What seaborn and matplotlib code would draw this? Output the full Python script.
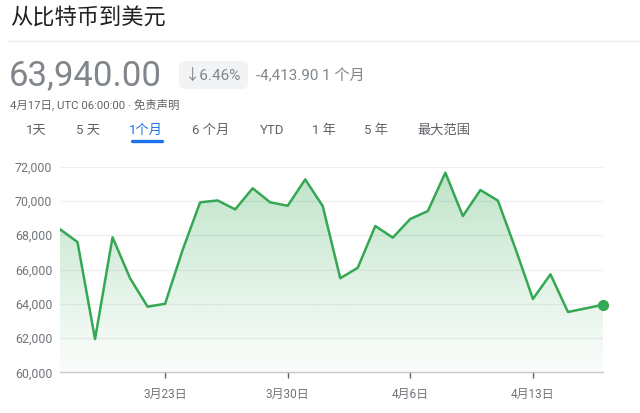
import numpy as np
import pandas as pd
import matplotlib
matplotlib.use("Agg")
import matplotlib.pyplot as plt
import matplotlib.dates as mdates
from matplotlib.patches import FancyBboxPatch
from matplotlib.ticker import FuncFormatter
import seaborn as sns

# ---- data ----
dates = pd.date_range("2024-03-17", "2024-04-17", freq="D")
prices = [68350, 67600, 61940, 67880, 65490, 63830, 64000, 67140, 69920, 70030,
          69510, 70740, 69920, 69720, 71260, 69700, 65490, 66100, 68540, 67860,
          68950, 69410, 71650, 69120, 70640, 70020, 67220, 64280, 65720, 63520,
          63730, 63940]
y_ticks = [60000, 62000, 64000, 66000, 68000, 70000, 72000]
x_tick_dates = pd.to_datetime(["2024-03-23", "2024-03-30", "2024-04-06", "2024-04-13"])
tabs = ["1天", "5 天", "1个月", "6 个月", "YTD", "1 年", "5 年", "最大范围"]
tab_x = [36, 88, 146, 211, 272, 324, 376, 444]

df = pd.DataFrame({"date": dates, "price": prices})

sns.set_theme(style="white")
plt.rcParams["font.family"] = ["Roboto", "Noto Sans CJK SC", "DejaVu Sans"]

W, H = 640, 413
fig = plt.figure(figsize=(W / 100, H / 100), dpi=100)
fig.patch.set_facecolor("white")

def fx(px):
    return px / W

def fy(py):
    return 1 - py / H

green = "#34a853"

# axes placement
ax = fig.add_axes([fx(60), fy(372.3), fx(603) - fx(60), fy(166.7) - fy(372.3)])
ax.set_facecolor("white")

# gradient fill under line
x_num = mdates.date2num(df["date"])
poly = ax.fill_between(x_num, prices, 60000, color="none", lw=0)
grad = np.linspace(0, 1, 256).reshape(-1, 1)
cmap = matplotlib.colors.LinearSegmentedColormap.from_list(
    "g", [(0.0, (52/255, 168/255, 83/255, 0.02)), (1.0, (52/255, 168/255, 83/255, 0.32))])
im = ax.imshow(grad, aspect="auto", cmap=cmap, origin="lower",
               extent=[x_num[0], x_num[-1], 60000, 72000], zorder=1)
path = poly.get_paths()[0]
im.set_clip_path(path, transform=ax.transData)

# grid lines
for v in y_ticks[1:]:
    ax.axhline(v, color="#eeeff0", lw=0.9, zorder=0.5)

sns.lineplot(data=df, x="date", y="price", ax=ax, color=green, lw=1.8, zorder=3)
ax.plot(df["date"].iloc[-1], prices[-1], "o", color=green, ms=7, zorder=4, clip_on=False)

ax.set_xlim(dates[0], dates[-1])
ax.set_ylim(60000, 72000)
ax.set_xlabel("")
ax.set_ylabel("")
for s in ["top", "right", "left"]:
    ax.spines[s].set_visible(False)
ax.spines["bottom"].set_color("#c4c7c9")
ax.spines["bottom"].set_linewidth(1.0)

ax.set_yticks(y_ticks)
ax.yaxis.set_major_formatter(FuncFormatter(lambda v, p: f"{int(v):,}"))
ax.tick_params(axis="y", length=0, pad=5.5, labelsize=8.9, labelcolor="#70757a")
ax.set_xticks(x_tick_dates)
ax.xaxis.set_major_formatter(FuncFormatter(
    lambda v, p: f"{mdates.num2date(v).month}月{mdates.num2date(v).day}日"))
ax.tick_params(axis="x", length=4, width=1, color="#5f6368", direction="out",
               pad=7, labelsize=8.6, labelcolor="#70757a", bottom=True)

# ---- header ----
fig.text(fx(10), fy(19), "从比特币到美元", fontsize=16, color="#202124", va="center", ha="left")
fig.add_artist(plt.Line2D([fx(8), fx(640)], [fy(41), fy(41)], color="#ebebeb", lw=1))

fig.text(fx(9), fy(76), "63,940.00", fontsize=25, color="#80868b", va="center", ha="left")

badge = FancyBboxPatch((fx(179), fy(89)), fx(248) - fx(179), fy(61) - fy(89),
                       boxstyle="round,pad=0,rounding_size=0.012",
                       transform=fig.transFigure, facecolor="#f1f3f4", edgecolor="none")
fig.add_artist(badge)
fig.text(fx(213.5), fy(75.5), "↓6.46%", fontsize=11, color="#80868b", va="center", ha="center")
fig.text(fx(256), fy(75.5), "-4,413.90 1 个月", fontsize=10.9, color="#80868b", va="center", ha="left")

fig.text(fx(10), fy(104), "4月17日, UTC 06:00:00 · 免责声明", fontsize=8.2, color="#5f6368",
         va="center", ha="left")

for t, x in zip(tabs, tab_x):
    c = "#1a73e8" if t == "1个月" else "#5f6368"
    fig.text(fx(x), fy(130.5), t, fontsize=9.5, color=c, va="center", ha="center")
fig.add_artist(plt.Line2D([fx(132), fx(162)], [fy(140.5), fy(140.5)], color="#1a73e8",
                          lw=2.4, solid_capstyle="round"))

fig.savefig("out.png", dpi=100, facecolor="white")
